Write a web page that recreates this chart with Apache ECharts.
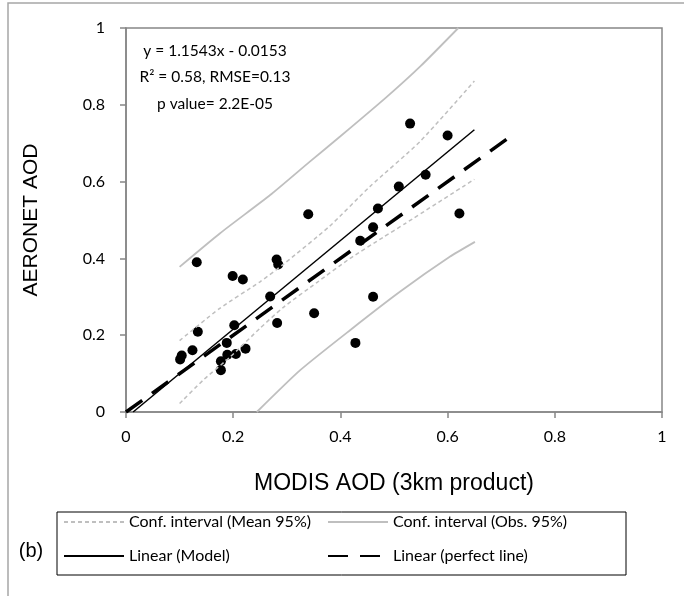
<!DOCTYPE html>
<html>
<head>
<meta charset="utf-8">
<script src="https://cdn.jsdelivr.net/npm/echarts@6/dist/echarts.min.js"></script>
<style>
  html, body { margin: 0; padding: 0; background: #fff; }
  #chart { width: 684px; height: 596px; }
</style>
</head>
<body>
<div id="chart"></div>
<script>
// 散点：MODIS AOD (x) vs AERONET AOD (y)
const modisAod = [0.101, 0.104, 0.124, 0.134, 0.132, 0.177, 0.177, 0.188, 0.189, 0.205,
  0.223, 0.202, 0.199, 0.218, 0.269, 0.282, 0.281, 0.284, 0.340, 0.351,
  0.428, 0.437, 0.461, 0.461, 0.470, 0.509, 0.530, 0.559, 0.600, 0.622]
const aeronetAod = [0.137, 0.147, 0.161, 0.209, 0.390, 0.109, 0.132, 0.180, 0.149, 0.151,
  0.165, 0.226, 0.354, 0.345, 0.301, 0.232, 0.397, 0.384, 0.515, 0.257,
  0.180, 0.446, 0.300, 0.481, 0.530, 0.587, 0.751, 0.618, 0.720, 0.517]

// 回归线 / 1:1 线端点
const modelX = [0.0133, 0.65]
const modelY = [0, 0.735]
const perfectX = [0, 0.715]
const perfectY = [0, 0.715]

// 置信区间
const meanUpX = [0.10, 0.175, 0.25, 0.294, 0.38, 0.455, 0.549, 0.65]
const meanUpY = [0.186, 0.270, 0.339, 0.385, 0.484, 0.587, 0.705, 0.862]
const meanLoX = [0.10, 0.144, 0.194, 0.25, 0.293, 0.356, 0.418, 0.48, 0.52, 0.65]
const meanLoY = [0.022, 0.083, 0.143, 0.218, 0.272, 0.337, 0.400, 0.455, 0.490, 0.606]
const obsUpX = [0.10, 0.175, 0.269, 0.343, 0.40, 0.486, 0.549, 0.62]
const obsUpY = [0.378, 0.465, 0.565, 0.652, 0.718, 0.820, 0.900, 1.0]
const obsLoX = [0.244, 0.325, 0.418, 0.511, 0.604, 0.651]
const obsLoY = [0, 0.109, 0.213, 0.313, 0.404, 0.443]

const axisTicks = [0, 0.2, 0.4, 0.6, 0.8, 1]

const pairs = (xs, ys) => xs.map((x, i) => [x, ys[i]])

const chart = echarts.init(document.getElementById('chart'))

const axisColor = '#868686'
const ciColor = '#bfbfbf'
const calibriLike = 'Lato, "Open Sans", sans-serif'
const arialLike = '"Liberation Sans", Arial, sans-serif'

const commonAxis = {
  type: 'value',
  min: axisTicks[0],
  max: axisTicks[axisTicks.length - 1],
  interval: 0.2,
  axisLine: { show: true, lineStyle: { color: axisColor, width: 1.5 } },
  axisTick: { show: true, inside: false, length: 6, lineStyle: { color: axisColor, width: 1.5 } },
  splitLine: { show: false },
  axisLabel: { color: '#000', fontFamily: calibriLike, fontSize: 16 },
  nameLocation: 'middle',
  nameTextStyle: { color: '#000', fontFamily: arialLike, fontSize: 21 }
}

// 图例只画线，不画小圆点
const legendBase = {
  padding: 0,
  itemWidth: 60,
  itemHeight: 14,
  selectedMode: false,
  itemStyle: { opacity: 0 },
  textStyle: { color: '#000', fontFamily: calibriLike, fontSize: 16 }
}

const option = {
  animation: false,
  backgroundColor: '#fff',
  grid: { left: 126, right: 22, top: 28, bottom: 184, show: true, borderColor: axisColor, borderWidth: 1.5 },
  xAxis: {
    ...commonAxis,
    name: 'MODIS AOD (3km product)',
    nameGap: 60,
    nameTextStyle: { ...commonAxis.nameTextStyle, fontSize: 23 },
    axisLabel: { ...commonAxis.axisLabel, margin: 17 }
  },
  yAxis: {
    ...commonAxis,
    name: 'AERONET AOD',
    nameGap: 84,
    axisLabel: { ...commonAxis.axisLabel, margin: 21 }
  },
  legend: [
    { ...legendBase, data: ['Conf. interval (Mean 95%)'], left: 63, top: 514 },
    { ...legendBase, data: ['Conf. interval (Obs. 95%)'], left: 327, top: 514 },
    { ...legendBase, data: ['Linear (Model)'], left: 63, top: 548 },
    { ...legendBase, data: ['Linear (perfect line)'], left: 327, top: 548 }
  ],
  graphic: [
    // 外框
    { type: 'rect', shape: { x: 8, y: 3, width: 700, height: 620 }, style: { fill: 'none', stroke: '#a6a6a6', lineWidth: 1.5 }, silent: true },
    // 图例框
    { type: 'rect', shape: { x: 57, y: 512, width: 569, height: 63 }, style: { fill: 'none', stroke: '#000', lineWidth: 1 }, silent: true },
    { type: 'text', x: 31, y: 551, style: { text: '(b)', fontFamily: arialLike, fontSize: 20, fill: '#000', align: 'center', verticalAlign: 'middle' } },
    // 回归方程注释
    { type: 'text', x: 215, y: 51, style: { text: 'y = 1.1543x - 0.0153', fontFamily: calibriLike, fontSize: 15.5, fill: '#000', align: 'center', verticalAlign: 'middle' } },
    { type: 'text', x: 215, y: 77, style: { text: 'R² = 0.58, RMSE=0.13', fontFamily: calibriLike, fontSize: 15.5, fill: '#000', align: 'center', verticalAlign: 'middle' } },
    { type: 'text', x: 215, y: 104, style: { text: 'p value= 2.2E-05', fontFamily: calibriLike, fontSize: 15.5, fill: '#000', align: 'center', verticalAlign: 'middle' } }
  ],
  series: [
    {
      name: 'points',
      type: 'scatter',
      data: pairs(modisAod, aeronetAod),
      symbol: 'circle',
      symbolSize: 10,
      itemStyle: { color: '#000', opacity: 1 },
      z: 2
    },
    {
      name: 'Conf. interval (Mean 95%)',
      type: 'line',
      data: pairs(meanUpX, meanUpY),
      symbol: 'none',
      smooth: 0.2,
      lineStyle: { color: ciColor, width: 1.5, type: [4, 3] },
      itemStyle: { color: ciColor },
      z: 3
    },
    {
      name: 'Conf. interval (Mean 95%)',
      type: 'line',
      data: pairs(meanLoX, meanLoY),
      symbol: 'none',
      smooth: 0.2,
      lineStyle: { color: ciColor, width: 1.5, type: [4, 3] },
      itemStyle: { color: ciColor },
      z: 3
    },
    {
      name: 'Conf. interval (Obs. 95%)',
      type: 'line',
      data: pairs(obsUpX, obsUpY),
      symbol: 'none',
      smooth: 0.2,
      lineStyle: { color: ciColor, width: 1.8 },
      itemStyle: { color: ciColor },
      z: 3
    },
    {
      name: 'Conf. interval (Obs. 95%)',
      type: 'line',
      data: pairs(obsLoX, obsLoY),
      symbol: 'none',
      smooth: 0.2,
      lineStyle: { color: ciColor, width: 1.8 },
      itemStyle: { color: ciColor },
      z: 3
    },
    {
      name: 'Linear (Model)',
      type: 'line',
      data: pairs(modelX, modelY),
      symbol: 'none',
      lineStyle: { color: '#000', width: 1.5 },
      itemStyle: { color: '#000' },
      z: 4
    },
    {
      name: 'Linear (perfect line)',
      type: 'line',
      data: pairs(perfectX, perfectY),
      symbol: 'none',
      lineStyle: { color: '#000', width: 3.5, type: [20, 12] },
      itemStyle: { color: '#000' },
      z: 4
    }
  ]
}

chart.setOption(option)
</script>
</body>
</html>
